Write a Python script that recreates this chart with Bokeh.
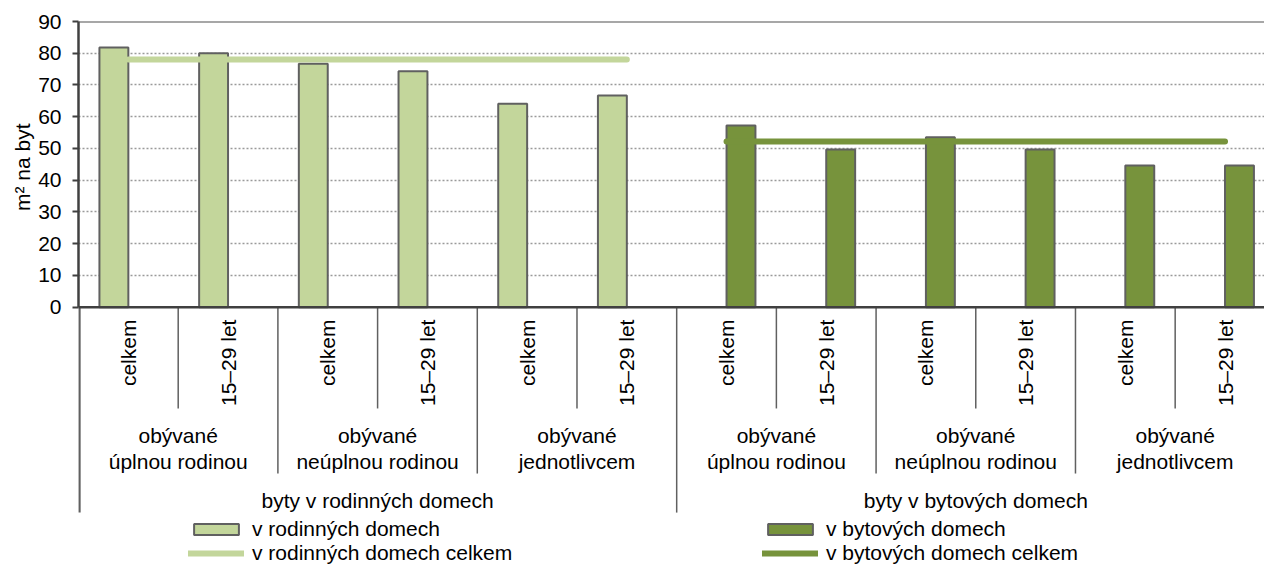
import math
from bokeh.plotting import figure
from bokeh.models import Range1d, FixedTicker, Span, Legend, LegendItem, Title
from bokeh.core.properties import value
from bokeh.embed import file_html
from bokeh.resources import INLINE

# ---------------- data ----------------
groups = ["byty v rodinných domech", "byty v bytových domech"]
subgroups = ["obývané\núplnou rodinou", "obývané\nneúplnou rodinou", "obývané\njednotlivcem"]
ages = ["celkem", "15–29 let"]

rod_values = [81.8, 80.0, 76.7, 74.3, 64.1, 66.7]   # v rodinných domech
byt_values = [57.2, 49.7, 53.5, 49.7, 44.6, 44.6]   # v bytových domech
rod_total = [78.0, 78.0, 78.0, 78.0, 78.0, 78.0]    # v rodinných domech celkem
byt_total = [52.2, 52.2, 52.2, 52.2, 52.2, 52.2]    # v bytových domech celkem

y_ticks = [0, 10, 20, 30, 40, 50, 60, 70, 80, 90]
y_title = "m² na byt"

series_names = ["v rodinných domech", "v bytových domech",
                "v rodinných domech celkem", "v bytových domech celkem"]

# ---------------- style ----------------
FONT = "Liberation Sans"
FS = "21px"
LIGHT = "#c3d69b"
DARK = "#77933c"
OUTLINE = "#606060"
AXIS = "#404040"

n_age = len(ages)
n_sub = len(subgroups)
per_group = n_age * n_sub
n = per_group * len(groups)
centers = [i + 0.5 for i in range(n)]

BW = 0.29
rod_x = [c - BW / 2 for c in centers[:per_group]]
byt_x = [c + BW / 2 for c in centers[per_group:]]

p = figure(width=1264, height=565, output_backend="svg", toolbar_location=None,
           x_range=Range1d(0, 11.896), y_range=Range1d(-81.37, 90),
           min_border_left=78, min_border_right=0, min_border_top=21, min_border_bottom=0,
           x_axis_location=None)
p.outline_line_color = None
p.background_fill_color = "white"
p.border_fill_color = "white"
p.xgrid.visible = False
p.ygrid.ticker = FixedTicker(ticks=y_ticks[1:-1])
p.ygrid.grid_line_color = "#9a9a9a"
p.ygrid.grid_line_dash = "2 2"
p.ygrid.grid_line_width = 1.5

ax = p.yaxis[0]
ax.ticker = FixedTicker(ticks=y_ticks)
ax.bounds = (0, 90)
ax.axis_line_color = AXIS
ax.axis_line_width = 2.5
ax.major_tick_line_color = AXIS
ax.major_tick_line_width = 2
ax.major_tick_out = 6
ax.major_tick_in = 0
ax.minor_tick_out = 0
ax.minor_tick_in = 0
ax.major_label_standoff = 11
ax.major_label_text_font = FONT
ax.major_label_text_font_size = FS
ax.major_label_text_color = "black"

# y-axis title, positioned along the 0..90 part of the axis
p.add_layout(Title(text=y_title, align="right", offset=102, standoff=4,
                   text_font=FONT, text_font_size=FS, text_font_style="normal",
                   text_color="black"), "left")

p.add_layout(Span(location=90, dimension="width", line_color="#505050", line_width=2))

# bars
r_rod_bar = p.vbar(x=rod_x, top=rod_values, bottom=0, width=BW,
                   fill_color=LIGHT, line_color=OUTLINE, line_width=2)
r_byt_bar = p.vbar(x=byt_x, top=byt_values, bottom=0, width=BW,
                   fill_color=DARK, line_color=OUTLINE, line_width=2)

p.add_layout(Span(location=0, dimension="width", line_color=AXIS, line_width=2.5))

# total lines
r_rod_line = p.line(x=centers[:per_group], y=rod_total, line_color=LIGHT,
                    line_width=6, line_cap="round")
r_byt_line = p.line(x=centers[per_group:], y=byt_total, line_color=DARK,
                    line_width=6, line_cap="round")

# category separators (boundary 0 sits on the axis line, nudged inside the frame)
sx, sy1, sw = [], [], []
for b in range(0, n + 1):
    sx.append(b if b > 0 else 0.009)
    if b % per_group == 0:
        sy1.append(-64.7)
    elif b % n_age == 0:
        sy1.append(-52.4)
    else:
        sy1.append(-31.9)
    sw.append(2.5 if b == 0 else 1.5)
p.segment(x0=sx, y0=[0] * len(sx), x1=sx, y1=sy1, line_color=OUTLINE, line_width=sw)

# category labels
age_labels = [ages[i % n_age] for i in range(n)]
p.text(x=centers, y=[-3.9] * n, text=age_labels, angle=math.pi / 2,
       text_align="right", text_baseline="middle",
       text_font=value(FONT), text_font_size=value(FS), text_color="black")

sub_x = [g * per_group + s * n_age + n_age / 2 for g in range(len(groups)) for s in range(n_sub)]
sub_t = [subgroups[s] for g in range(len(groups)) for s in range(n_sub)]
p.text(x=sub_x, y=[-44.5] * len(sub_x), text=sub_t, text_align="center",
       text_baseline="middle", text_line_height=1.15,
       text_font=value(FONT), text_font_size=value(FS), text_color="black")

grp_x = [g * per_group + per_group / 2 for g in range(len(groups))]
p.text(x=grp_x, y=[-60.9] * len(grp_x), text=groups, text_align="center",
       text_baseline="middle",
       text_font=value(FONT), text_font_size=value(FS), text_color="black")

# legends
def make_legend(items, loc):
    lg = Legend(items=items, location=loc, orientation="vertical",
                glyph_width=56, glyph_height=14, label_height=20, label_standoff=8,
                spacing=0, padding=0, margin=0, border_line_color=None,
                background_fill_alpha=0, label_text_font=FONT,
                label_text_font_size=FS, label_text_color="black")
    p.add_layout(lg)

make_legend([LegendItem(label=series_names[0], renderers=[r_rod_bar]),
             LegendItem(label=series_names[2], renderers=[r_rod_line])], (110, 0))
make_legend([LegendItem(label=series_names[1], renderers=[r_byt_bar]),
             LegendItem(label=series_names[3], renderers=[r_byt_line])], (684, 0))

open("out.html", "w").write(file_html(p, INLINE))
